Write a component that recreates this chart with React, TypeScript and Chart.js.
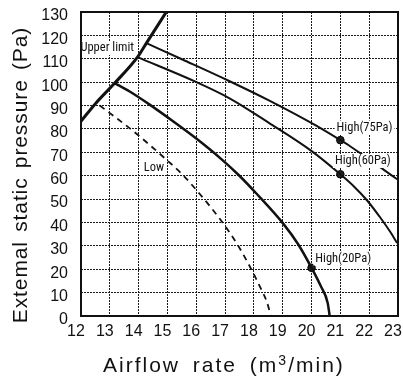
import React, { useEffect, useRef } from "react";
import { Chart, registerables } from "chart.js";

Chart.register(...registerables);

// ---- Data ----
const xTicksMin = 12;
const xTicksMax = 23;
const yTicksMin = 0;
const yTicksMax = 130;

const upperLimitX = [12, 12.5, 13.17, 13.96, 14.27, 14.96];
const upperLimitY = [83.3, 90.8, 99.6, 110.7, 116.7, 130];

const high75X = [14.27, 15.52, 17.14, 18.52, 20.1, 21, 21.35, 22.51, 22.97];
const high75Y = [116.7, 109.7, 100.5, 92.2, 81.8, 75.2, 72.5, 62.5, 58.5];

const high60X = [13.96, 15.99, 17.14, 18.52, 20.04, 21, 21.48, 21.93, 22.39, 22.74, 22.97];
const high60Y = [110.7, 100.1, 93.2, 82.6, 70.2, 60.6, 55.3, 49.4, 42, 35.8, 31.2];

const high20X = [13.17, 13.69, 14.37, 15.17, 15.99, 16.88, 17.47, 18.07, 19.03, 19.53, 20, 20.32, 20.56, 20.63];
const high20Y = [99.6, 96.0, 90.5, 83.5, 76, 67, 60.3, 52.6, 39.3, 30.8, 20.6, 12.8, 5.6, 0];

const lowX = [12.65, 13.17, 13.8, 14.37, 14.83, 15.48, 16.1, 16.79, 17.14, 17.48, 17.93, 18.17, 18.45, 18.59];
const lowY = [90, 85.2, 79.2, 73.3, 68.3, 61, 52.5, 42, 36, 29.5, 19.5, 13.5, 6, 0];

const markerX = [21, 21, 20];
const markerY = [75.2, 60.6, 20.6];

const labelText = ["Upper limit", "Low", "High(75Pa)", "High(60Pa)", "High(20Pa)"];
const labelX = [12.91, 14.53, 21.84, 21.78, 21.1];
const labelY = [114.6, 63.3, 80.6, 66.3, 24.6];

const yTitle = "Extemal static pressure (Pa)";
const xTitleMain = "Airflow rate (m";
const xTitleSup = "3";
const xTitleEnd = "/min)";

const pts = (xs: number[], ys: number[]) => xs.map((x, i) => ({ x, y: ys[i] }));

const SANS = '"Liberation Sans", Arial, Helvetica, sans-serif';
const NARROW = '"Roboto Condensed", "DejaVu Sans Condensed", sans-serif';

const annotationPlugin = {
  id: "annotations",
  afterDatasetsDraw(chart: any) {
    const ctx = chart.ctx;
    const xs = chart.scales.x;
    const ys = chart.scales.y;
    const area = chart.chartArea;
    ctx.save();
    ctx.font = `12.5px ${NARROW}`;
    ctx.textAlign = "center";
    ctx.textBaseline = "middle";
    labelText.forEach((t, i) => {
      const px = xs.getPixelForValue(labelX[i]);
      const py = ys.getPixelForValue(labelY[i]);
      const w = ctx.measureText(t).width;
      ctx.fillStyle = "#fff";
      ctx.fillRect(px - w / 2 - 2, py - 7, w + 4, 14);
      ctx.fillStyle = "#111";
      ctx.fillText(t, px, py);
    });
    // frame
    ctx.strokeStyle = "#111";
    ctx.lineWidth = 2;
    ctx.strokeRect(area.left, area.top, area.right - area.left, area.bottom - area.top);
    ctx.restore();
  },
  afterDraw(chart: any) {
    const ctx = chart.ctx;
    const area = chart.chartArea;
    ctx.save();
    ctx.fillStyle = "#111";
    // Y title
    ctx.translate(27, (area.top + area.bottom) / 2 + 11);
    ctx.rotate(-Math.PI / 2);
    ctx.font = `21px ${SANS}`;
    (ctx as any).letterSpacing = "0.9px";
    (ctx as any).wordSpacing = "2.5px";
    ctx.textAlign = "center";
    ctx.textBaseline = "alphabetic";
    ctx.fillText(yTitle, 0, 0);
    ctx.restore();

    // X title with superscript
    ctx.save();
    ctx.fillStyle = "#111";
    ctx.textAlign = "left";
    ctx.textBaseline = "alphabetic";
    (ctx as any).letterSpacing = "2px";
    (ctx as any).wordSpacing = "5px";
    let x = 103;
    const base = 372;
    ctx.font = `21px ${SANS}`;
    ctx.fillText(xTitleMain, x, base);
    x += ctx.measureText(xTitleMain).width;
    ctx.font = `14px ${SANS}`;
    ctx.fillText(xTitleSup, x, base - 7);
    x += ctx.measureText(xTitleSup).width;
    ctx.font = `21px ${SANS}`;
    ctx.fillText(xTitleEnd, x, base);
    ctx.restore();
  },
};

export default function App() {
  const ref = useRef<HTMLCanvasElement | null>(null);

  useEffect(() => {
    if (!ref.current) return;
    const lineDs = (data: any[], width: number, dash: number[] = []) => ({
      data,
      borderColor: "#111",
      borderWidth: width,
      borderDash: dash,
      pointRadius: 0,
      fill: false,
      cubicInterpolationMode: "monotone" as const,
      showLine: true,
    });
    const gridCommon = {
      color: "#1a1a1a",
      lineWidth: 1,
      drawTicks: false,
    };
    const chart = new Chart(ref.current, {
      type: "line",
      data: {
        datasets: [
          lineDs(pts(upperLimitX, upperLimitY), 3),
          lineDs(pts(high75X, high75Y), 2),
          lineDs(pts(high60X, high60Y), 2),
          lineDs(pts(high20X, high20Y), 2.5),
          lineDs(pts(lowX, lowY), 1.8, [6, 5]),
          {
            data: pts(markerX, markerY),
            showLine: false,
            pointRadius: 3.8,
            pointBackgroundColor: "#222",
            pointBorderColor: "#000",
            pointBorderWidth: 1,
          } as any,
        ],
      },
      options: {
        responsive: false,
        animation: false,
        devicePixelRatio: 1,
        layout: { padding: { top: 12, right: 2, left: 0, bottom: 0 } },
        plugins: { legend: { display: false }, tooltip: { enabled: false } },
        scales: {
          x: {
            type: "linear",
            min: xTicksMin,
            max: xTicksMax,
            ticks: {
              stepSize: 1,
              color: "#111",
              font: { family: SANS, size: 16 },
              padding: 6,
              labelOffset: -5,
              maxRotation: 0,
              autoSkip: false,
            },
            grid: gridCommon,
            border: { display: false, dash: [2, 1] },
            afterFit: (s: any) => {
              s.height = 67;
              s.paddingLeft = 0;
              s.paddingRight = 0;
            },
          },
          y: {
            type: "linear",
            min: yTicksMin,
            max: yTicksMax,
            ticks: {
              stepSize: 10,
              color: "#111",
              font: { family: SANS, size: 16 },
              padding: 13,
              labelOffset: 4,
            },
            grid: gridCommon,
            border: { display: false, dash: [2, 1] },
            afterFit: (s: any) => {
              s.width = 81;
              s.paddingTop = 0;
              s.paddingBottom = 0;
            },
          },
        },
      } as any,
      plugins: [annotationPlugin],
    });
    return () => chart.destroy();
  }, []);

  return (
    <div style={{ position: "absolute", left: 0, top: 0, width: 403, height: 383, background: "#fff" }}>
      <canvas ref={ref} width={403} height={383} />
    </div>
  );
}
